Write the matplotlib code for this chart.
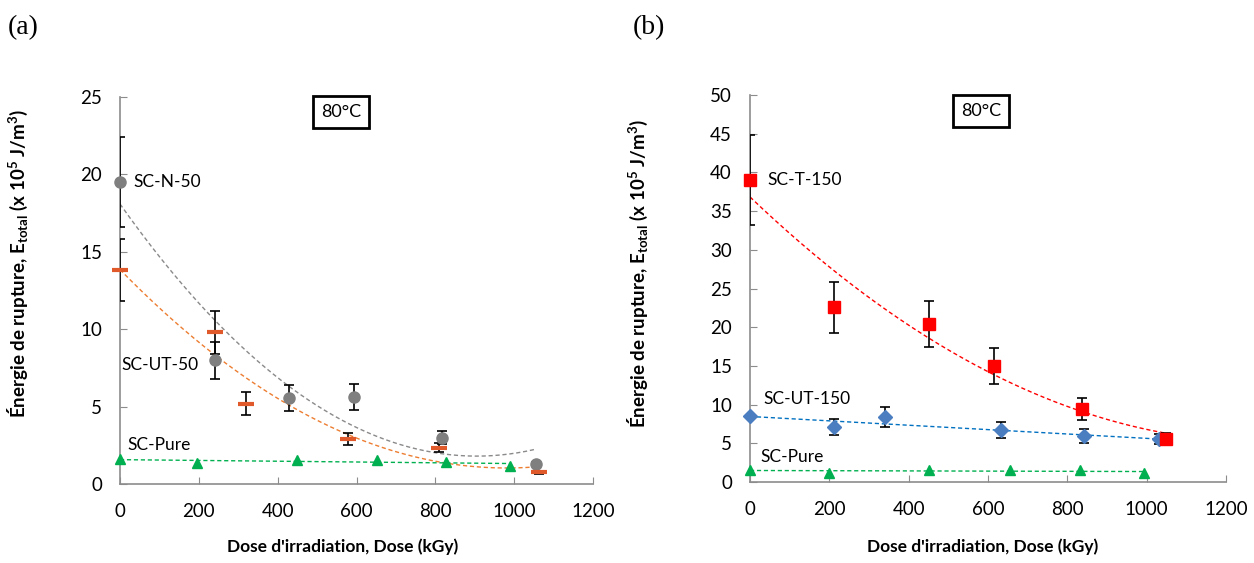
import numpy as np
import matplotlib
matplotlib.use("Agg")
import matplotlib.pyplot as plt

plt.rcParams['font.family'] = ['Lato', 'DejaVu Sans']
plt.rcParams['mathtext.fontset'] = 'custom'
plt.rcParams['mathtext.rm'] = 'Lato:bold'
plt.rcParams['mathtext.bf'] = 'Lato:bold'
plt.rcParams['mathtext.it'] = 'Lato:bold'

# ---------------- Data: panel (a) ----------------
n50_x = [0, 240, 428, 593, 818, 1056]
n50_y = [19.5, 8.0, 5.55, 5.6, 3.0, 1.3]
n50_err = [2.9, 1.2, 0.85, 0.85, 0.4, 0.15]

ut50_x = [0, 240, 320, 578, 810, 1063]
ut50_y = [13.8, 9.8, 5.2, 2.9, 2.35, 0.75]
ut50_err = [2.0, 1.4, 0.75, 0.4, 0.3, 0.1]

pureA_x = [0, 195, 448, 653, 828, 990]
pureA_y = [1.6, 1.35, 1.55, 1.55, 1.45, 1.15]

# ---------------- Data: panel (b) ----------------
t150_x = [0, 213, 450, 614, 836, 1049]
t150_y = [39.0, 22.6, 20.4, 15.0, 9.4, 5.6]
t150_err = [5.8, 3.3, 3.0, 2.3, 1.4, 0.7]

ut150_x = [0, 211, 341, 633, 841, 1030]
ut150_y = [8.5, 7.1, 8.4, 6.7, 5.9, 5.55]
ut150_err = [0.0, 1.0, 1.3, 1.0, 0.9, 0.7]

pureB_x = [0, 200, 450, 656, 833, 994]
pureB_y = [1.6, 1.2, 1.5, 1.5, 1.5, 1.2]

xticks = [0, 200, 400, 600, 800, 1000, 1200]
yticksA = [0, 5, 10, 15, 20, 25]
yticksB = list(range(0, 55, 5))

GREY = '#7f7f7f'
ORANGE = '#E0592A'
ORANGE_LINE = '#ED7D31'
GREEN = '#00B050'
RED = '#FF0000'
BLUE = '#4A7EC1'
BLUE_LINE = '#0070C0'
AXC = '#8c8c8c'

fig = plt.figure(figsize=(12.54, 5.63), dpi=100)
axA = fig.add_axes([120/1254, 1-484/563, 473/1254, 387/563])
axB = fig.add_axes([750/1254, 1-482/563, 476/1254, 387/563])


def trend(ax, x, y, deg, color):
    x = np.asarray(x, float)
    y = np.asarray(y, float)
    c = np.polyfit(x, y, deg)
    xs = np.linspace(x.min(), x.max(), 200)
    ax.plot(xs, np.polyval(c, xs), ls=(0, (3, 2)), lw=1.0, color=color, zorder=2)


def ebars(ax, x, y, err):
    ax.errorbar(x, y, yerr=err, fmt='none', ecolor='black', elinewidth=1.2,
                capsize=3.5, capthick=1.2, zorder=3)


def style(ax, yticks, ymax):
    ax.set_xlim(0, 1200)
    ax.set_ylim(0, ymax)
    ax.set_xticks(xticks)
    ax.set_yticks(yticks)
    for s in ['top', 'right']:
        ax.spines[s].set_visible(False)
    for s in ['left', 'bottom']:
        ax.spines[s].set_color(AXC)
        ax.spines[s].set_linewidth(1.2)
    ax.tick_params(direction='in', length=5, color=AXC, labelsize=13.5,
                   labelcolor='black')
    ax.tick_params(axis='x', pad=14)
    ax.tick_params(axis='y', pad=13)
    ax.set_xlabel("Dose d'irradiation, Dose (kGy)", fontsize=12.5, fontweight='bold')
    ax.set_ylabel(r"Énergie de rupture, E$_{\mathrm{total}}$ (x 10$^{\mathrm{5}}$ J/m$^{\mathrm{3}}$)",
                  fontsize=13.5, fontweight='bold')


# ---- panel (a)
trend(axA, n50_x, n50_y, 2, '#8a8a8a')
trend(axA, ut50_x, ut50_y, 2, ORANGE_LINE)
trend(axA, pureA_x, pureA_y, 1, GREEN)
ebars(axA, n50_x, n50_y, n50_err)
ebars(axA, ut50_x, ut50_y, ut50_err)
axA.plot(n50_x, n50_y, 'o', ms=8, color=GREY, zorder=4, clip_on=False)
axA.plot(ut50_x, ut50_y, '_', ms=11, mew=3, color=ORANGE, zorder=4, clip_on=False)
axA.plot(pureA_x, pureA_y, '^', ms=7.5, color=GREEN, zorder=5, clip_on=False)
style(axA, yticksA, 25)
axA.xaxis.set_label_coords(0.47, -0.14)
axA.yaxis.set_label_coords(-0.19, 0.57)
axA.text(35, 19.5, 'SC-N-50', fontsize=12.5, va='center', ha='left')
axA.text(2.5, 7.7, 'SC-UT-50', fontsize=12.5, va='center', ha='left')
axA.text(18, 2.5, 'SC-Pure', fontsize=12.5, va='center', ha='left')
axA.text(0.467, 0.962, '80°C', transform=axA.transAxes, fontsize=13,
         ha='center', va='center',
         bbox=dict(boxstyle='square,pad=0.45', fc='white', ec='black', lw=2))

# ---- panel (b)
trend(axB, t150_x, t150_y, 2, RED)
trend(axB, ut150_x, ut150_y, 1, BLUE_LINE)
trend(axB, pureB_x, pureB_y, 1, GREEN)
ebars(axB, t150_x, t150_y, t150_err)
ebars(axB, ut150_x, ut150_y, ut150_err)
axB.plot(ut150_x, ut150_y, 'D', ms=7, color=BLUE, zorder=4, clip_on=False)
axB.plot(t150_x, t150_y, 's', ms=8, color=RED, zorder=5, clip_on=False)
axB.plot(pureB_x, pureB_y, '^', ms=7.5, color=GREEN, zorder=5, clip_on=False)
style(axB, yticksB, 50)
axB.xaxis.set_label_coords(0.488, -0.145)
axB.yaxis.set_label_coords(-0.21, 0.54)
axB.text(45, 39.0, 'SC-T-150', fontsize=12.5, va='center', ha='left')
axB.text(33, 10.7, 'SC-UT-150', fontsize=12.5, va='center', ha='left')
axB.text(25, 3.2, 'SC-Pure', fontsize=12.5, va='center', ha='left')
axB.text(0.485, 0.959, '80°C', transform=axB.transAxes, fontsize=13,
         ha='center', va='center',
         bbox=dict(boxstyle='square,pad=0.45', fc='white', ec='black', lw=2))

fig.text(8/1254, 1-28/563, '(a)', fontsize=20, family='Liberation Serif',
         ha='left', va='center')
fig.text(633/1254, 1-28/563, '(b)', fontsize=20, family='Liberation Serif',
         ha='left', va='center')

fig.savefig('out.png', dpi=100)
